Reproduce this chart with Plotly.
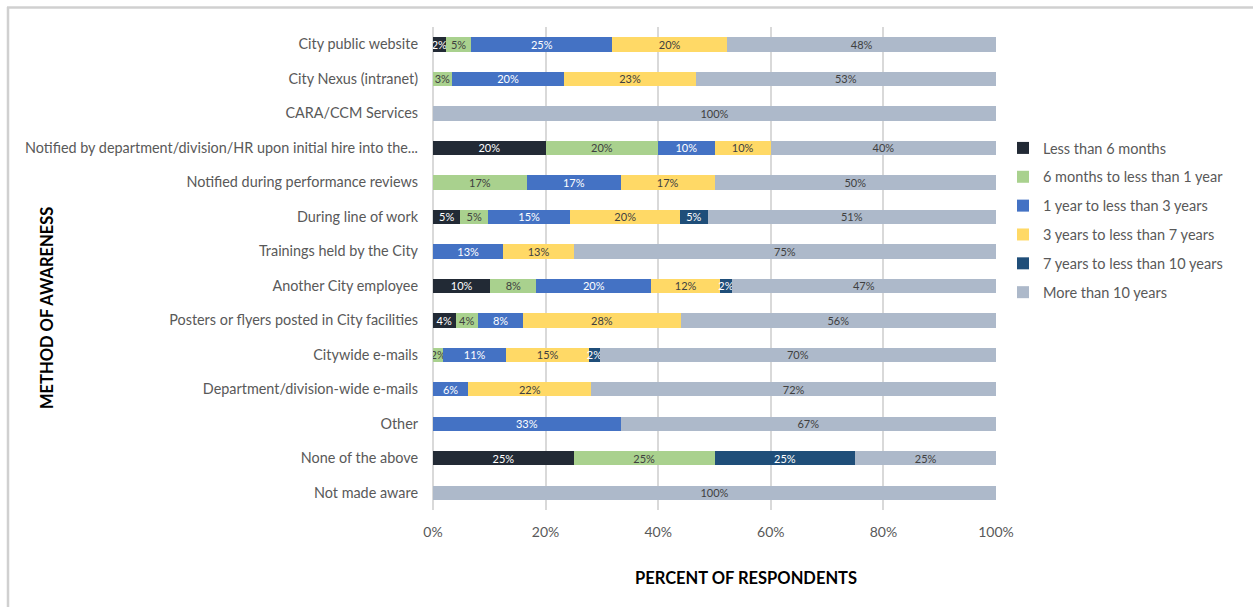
import plotly.graph_objects as go

categories = [
    "City public website",
    "City Nexus (intranet)",
    "CARA/CCM Services",
    "Notified by department/division/HR upon initial hire into the...",
    "Notified during performance reviews",
    "During line of work",
    "Trainings held by the City",
    "Another City employee",
    "Posters or flyers posted in City facilities",
    "Citywide e-mails",
    "Department/division-wide e-mails",
    "Other",
    "None of the above",
    "Not made aware",
]

series_names = [
    "Less than 6 months",
    "6 months to less than 1 year",
    "1 year to less than 3 years",
    "3 years to less than 7 years",
    "7 years to less than 10 years",
    "More than 10 years",
]

# percent of respondents per category (None = no respondents in that band)
less_6_months = [2.27, None, None, 20.0, None, 4.88, None, 10.2, 4.0, None, None, None, 25.0, None]
six_m_to_1y = [4.55, 3.33, None, 20.0, 16.67, 4.88, None, 8.16, 4.0, 1.85, None, None, 25.0, None]
one_to_3y = [25.0, 20.0, None, 10.0, 16.67, 14.63, 12.5, 20.41, 8.0, 11.11, 6.25, 33.33, None, None]
three_to_7y = [20.45, 23.33, None, 10.0, 16.67, 19.51, 12.5, 12.24, 28.0, 14.81, 21.88, None, None, None]
seven_to_10y = [None, None, None, None, None, 4.88, None, 2.04, None, 1.85, None, None, 25.0, None]
more_10y = [47.73, 53.33, 100.0, 40.0, 50.0, 51.22, 75.0, 46.94, 56.0, 70.37, 71.88, 66.67, 25.0, 100.0]

series_values = [less_6_months, six_m_to_1y, one_to_3y, three_to_7y, seven_to_10y, more_10y]
colors = ["#222A35", "#A9D18E", "#4472C4", "#FFD966", "#1F4E79", "#ADB9CA"]
text_colors = ["#FFFFFF", "#404040", "#FFFFFF", "#404040", "#FFFFFF", "#404040"]

x_ticks = [0, 20, 40, 60, 80, 100]
x_tick_labels = ["0%", "20%", "40%", "60%", "80%", "100%"]

FONT = "Lato"

fig = go.Figure()
for i, (name, vals) in enumerate(zip(series_names, series_values)):
    fig.add_trace(go.Bar(
        y=categories,
        x=vals,
        name=name,
        orientation="h",
        marker=dict(color=colors[i], line=dict(width=0)),
        texttemplate="%{x:.0f}%",
        textposition="inside",
        insidetextanchor="middle",
        textangle=0,
        textfont=dict(family=FONT, size=11, color=text_colors[i]),
        legendgroup=f"g{i}",
        hoverinfo="skip",
    ))

W, H = 1253, 607
L, R, T, B = 433, 257, 27, 97
pw, ph = W - L - R, H - T - B

def px2x(px):
    return (px - L) / pw

def px2y(py):
    return (H - B - py) / ph

frame = dict(color="#D0D0D0", width=2.5)

fig.update_layout(
    width=W, height=H,
    margin=dict(l=L, r=R, t=T, b=B, pad=0),
    barmode="stack",
    bargap=0.58,
    plot_bgcolor="white",
    paper_bgcolor="white",
    font=dict(family=FONT, color="#595959"),
    uniformtext=dict(minsize=11, mode="show"),
    legend=dict(
        x=px2x(1003), y=px2y(132), xanchor="left", yanchor="top",
        font=dict(family=FONT, size=14.5, color="#595959"),
        tracegroupgap=7,
        itemwidth=30,
        bgcolor="rgba(0,0,0,0)",
    ),
    xaxis=dict(
        range=[0, 100],
        tickvals=x_ticks,
        ticktext=x_tick_labels,
        showgrid=True, gridcolor="#D9D9D9", gridwidth=1.5,
        zeroline=True, zerolinecolor="#D9D9D9", zerolinewidth=1.5,
        showline=False,
        ticks="", ticklabelstandoff=12,
        tickfont=dict(family=FONT, size=14, color="#595959"),
        fixedrange=True,
    ),
    yaxis=dict(
        type="category",
        categoryorder="array",
        categoryarray=categories,
        autorange="reversed",
        showgrid=False, showline=False, zeroline=False,
        ticks="", ticklabelstandoff=14,
        tickfont=dict(family=FONT, size=14.4, color="#595959"),
        fixedrange=True,
    ),
    shapes=[
        dict(type="line", xref="paper", yref="paper",
             x0=px2x(7), x1=px2x(1253), y0=px2y(7.5), y1=px2y(7.5), line=frame, layer="above"),
        dict(type="line", xref="paper", yref="paper",
             x0=px2x(8), x1=px2x(8), y0=px2y(607), y1=px2y(7), line=frame, layer="above"),
    ],
    annotations=[
        dict(text="<b>PERCENT OF RESPONDENTS</b>", xref="paper", yref="paper",
             x=px2x(746), y=px2y(578), xanchor="center", yanchor="middle",
             showarrow=False, font=dict(family=FONT, size=16.5, color="#000000")),
        dict(text="<b>METHOD OF AWARENESS</b>", xref="paper", yref="paper",
             x=px2x(47), y=px2y(308), xanchor="center", yanchor="middle",
             textangle=-90, showarrow=False, font=dict(family=FONT, size=16.5, color="#000000")),
    ],
)

fig.write_html(
    "out.html",
    config={"displayModeBar": False},
    post_script="document.body.style.margin='0';document.body.style.overflow='hidden';",
)
